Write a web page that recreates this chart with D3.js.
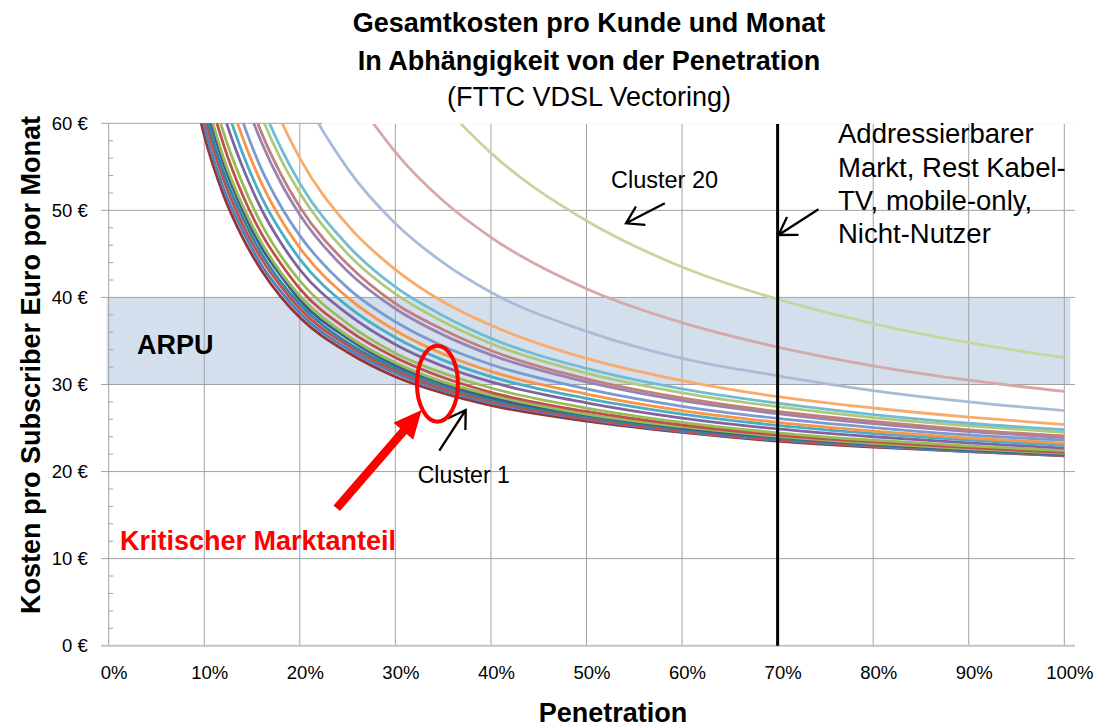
<!DOCTYPE html>
<html>
<head>
<meta charset="utf-8">
<script src="https://cdn.jsdelivr.net/npm/d3@7"></script>
<style>
  html, body { margin: 0; padding: 0; background: #fff; overflow: hidden; }
  svg { display: block; }
  text { font-family: 'Liberation Sans', Arial, sans-serif; }
  .bold { font-weight: bold; }
</style>
</head>
<body>
<svg width="1094" height="728"></svg>
<script>
const svg = d3.select('svg');
const width = +svg.attr('width');
const height = +svg.attr('height');

// penetration steps (share of households)
const penetration = [0.08, 0.10, 0.12, 0.14, 0.16, 0.18, 0.20, 0.25, 0.30, 0.35, 0.40, 0.50, 0.60, 0.70, 0.80, 0.90, 1.00];

// monthly cost per subscriber (EUR), one array per cluster, null = above chart
const cluster1  = [68.8, 58.6, 51.8, 46.9, 43.1, 40.1, 37.7, 33.7, 30.9, 29.0, 27.6, 25.8, 24.5, 23.5, 22.8, 22.3, 21.8];
const cluster2  = [70.2, 59.7, 52.6, 47.7, 43.7, 40.7, 38.2, 34.1, 31.3, 29.3, 27.9, 26.0, 24.6, 23.6, 22.9, 22.3, 21.85];
const cluster3  = [71.6, 60.8, 53.6, 48.4, 44.4, 41.3, 38.7, 34.5, 31.6, 29.5, 28.1, 26.1, 24.7, 23.7, 23.0, 22.4, 21.9];
const cluster4  = [72.9, 61.8, 54.4, 49.2, 45.0, 41.8, 39.2, 34.8, 31.9, 29.8, 28.3, 26.3, 24.85, 23.85, 23.1, 22.45, 21.95];
const cluster5  = [74.4, 63.0, 55.4, 50.0, 45.7, 42.5, 39.7, 35.3, 32.2, 30.1, 28.5, 26.5, 25.0, 23.95, 23.15, 22.5, 22.0];
const cluster6  = [75.5, 63.9, 56.1, 50.6, 46.3, 42.9, 40.2, 35.6, 32.5, 30.3, 28.8, 26.6, 25.15, 24.05, 23.25, 22.6, 22.1];
const cluster7  = [77.6, 65.6, 57.6, 51.8, 47.3, 43.9, 41.0, 36.3, 33.1, 30.8, 29.1, 26.9, 25.35, 24.2, 23.4, 22.75, 22.2];
const cluster8  = [79.8, 67.3, 59.0, 53.1, 48.4, 44.8, 41.9, 37.0, 33.6, 31.3, 29.6, 27.3, 25.65, 24.45, 23.6, 22.95, 22.4];
const cluster9  = [83.1, 70.0, 61.2, 55.0, 50.1, 46.3, 43.2, 38.1, 34.6, 32.1, 30.3, 27.9, 26.15, 24.9, 24.0, 23.3, 22.7];
const cluster10 = [85.9, 72.2, 63.1, 56.6, 51.5, 47.6, 44.4, 39.0, 35.4, 32.8, 30.9, 28.4, 26.6, 25.3, 24.35, 23.6, 23.0];
const cluster11 = [89.0, 74.7, 65.2, 58.4, 53.1, 49.0, 45.7, 40.0, 36.2, 33.5, 31.5, 28.9, 27.0, 25.65, 24.65, 23.85, 23.25];
const cluster12 = [92.2, 77.3, 67.4, 60.3, 54.7, 50.5, 47.1, 41.1, 37.2, 34.4, 32.3, 29.5, 27.5, 26.1, 25.05, 24.2, 23.6];
const cluster13 = [98.3, 82.1, 71.4, 63.6, 57.8, 53.2, 49.5, 43.0, 38.7, 35.7, 33.4, 30.3, 28.15, 26.65, 25.5, 24.6, 23.9];
const cluster14 = [null, 84.0, 72.9, 65.0, 58.9, 54.2, 50.4, 43.8, 39.3, 36.3, 33.9, 30.65, 28.45, 26.9, 25.75, 24.8, 24.1];
const cluster15 = [null, 87.0, 75.4, 67.1, 60.8, 55.9, 52.0, 45.0, 40.4, 37.2, 34.7, 31.3, 29.05, 27.45, 26.2, 25.25, 24.5];
const cluster16 = [null, 89.2, 77.2, 68.7, 62.2, 57.2, 53.1, 46.0, 41.2, 37.9, 35.3, 31.85, 29.5, 27.85, 26.55, 25.55, 24.8];
const cluster17 = [null, null, 81.9, 72.8, 65.9, 60.4, 56.0, 48.3, 43.2, 39.5, 36.8, 33.0, 30.45, 28.6, 27.3, 26.25, 25.4];
const cluster18 = [null, null, null, 84.5, 76.1, 69.5, 64.2, 54.8, 48.5, 44.0, 40.6, 36.1, 33.0, 31.0, 29.3, 28.0, 27.0];
const cluster19 = [null, null, null, null, null, 83.0, 76.4, 64.6, 56.7, 51.1, 46.9, 41.0, 37.1, 34.3, 32.15, 30.5, 29.2];
const cluster20 = [null, null, null, null, null, null, null, null, 69.7, 62.2, 56.6, 48.8, 43.5, 39.8, 37.0, 34.8, 33.1];

const clusters = [cluster1, cluster2, cluster3, cluster4, cluster5, cluster6, cluster7, cluster8, cluster9, cluster10,
                  cluster11, cluster12, cluster13, cluster14, cluster15, cluster16, cluster17, cluster18, cluster19, cluster20];

const clusterColors = ['#943634', '#4F81BD', '#C0504D', '#31859C', '#376092', '#9BBB59', '#C0504D', '#9BBB59', '#8064A2', '#4BACC6',
                       '#F79646', '#7B9BD0', '#9983B5', '#C0807E', '#AFC97A', '#6FBDD1', '#F9AB6B', '#A8BCDA', '#D6A8A7', '#C4D7A1'];

const yTicks = [0, 10, 20, 30, 40, 50, 60];
const xTicks = [0, 0.1, 0.2, 0.3, 0.4, 0.5, 0.6, 0.7, 0.8, 0.9, 1.0];
const arpuRange = [30, 40];          // ARPU band
const addressableShare = 0.7;        // addressable market limit
const criticalShare = [0.344, 30.1]; // centre of the red ellipse

const margin = { top: 123.3, right: 29.7, bottom: 82.3, left: 108.7 };
const innerWidth = width - margin.left - margin.right;
const innerHeight = height - margin.top - margin.bottom;

const xScale = d3.scaleLinear().domain([0, 1]).range([0, innerWidth]);
const yScale = d3.scaleLinear().domain([0, 60]).range([innerHeight, 0]);

const g = svg.append('g')
    .attr('transform', `translate(${margin.left},${margin.top})`);

// ARPU band sits under the grid
g.append('rect')
    .attr('x', -2)
    .attr('y', yScale(arpuRange[1]))
    .attr('width', innerWidth + 8)
    .attr('height', yScale(arpuRange[0]) - yScale(arpuRange[1]))
    .attr('fill', '#D4DFEE');

// horizontal gridlines (they run a bit past both axes, like in Excel)
g.selectAll('.hgrid')
    .data(yTicks.filter(d => d > 0))
    .enter().append('line')
    .attr('class', 'hgrid')
    .attr('x1', -7.7).attr('x2', innerWidth + 10.7)
    .attr('y1', d => yScale(d)).attr('y2', d => yScale(d))
    .attr('stroke', '#A3A3A3')
    .attr('stroke-width', 1);

// vertical gridlines
g.selectAll('.vgrid')
    .data(xTicks.filter(d => d > 0))
    .enter().append('line')
    .attr('class', 'vgrid')
    .attr('x1', d => xScale(d)).attr('x2', d => xScale(d))
    .attr('y1', 0).attr('y2', innerHeight)
    .attr('stroke', '#A3A3A3')
    .attr('stroke-width', 1);

// y axis: labels only, line + minor ticks drawn by hand
const yAxis = d3.axisLeft(yScale)
    .tickValues(yTicks)
    .tickFormat(d => `${d} €`)
    .tickSize(0)
    .tickPadding(21);
const yAxisG = g.append('g').call(yAxis)
    .attr('font-size', 18.5)
    .attr('font-family', 'Lato, "Open Sans", sans-serif');
yAxisG.select('.domain').remove();
yAxisG.selectAll('text').attr('fill', '#000');

g.append('line')
    .attr('x1', 0).attr('x2', 0)
    .attr('y1', 0).attr('y2', innerHeight)
    .attr('stroke', '#A3A3A3');

g.selectAll('.minor')
    .data(d3.range(0, 61, 2).filter(d => d % 10 !== 0))
    .enter().append('line')
    .attr('class', 'minor')
    .attr('x1', 0).attr('x2', 4.5)
    .attr('y1', d => yScale(d)).attr('y2', d => yScale(d))
    .attr('stroke', '#A3A3A3');

// x axis
const xAxis = d3.axisBottom(xScale)
    .tickValues(xTicks)
    .tickFormat(d3.format('.0%'))
    .tickSize(0);
const xAxisG = g.append('g')
    .attr('transform', `translate(0, ${innerHeight})`)
    .call(xAxis)
    .attr('font-size', 18.5)
    .attr('font-family', 'Lato, "Open Sans", sans-serif');
xAxisG.select('.domain').remove();
xAxisG.selectAll('text')
    .attr('fill', '#000')
    .attr('y', 33.5)
    .attr('dy', 0)
    .attr('dx', 5);

g.append('line')
    .attr('x1', -7.7).attr('x2', innerWidth + 10.7)
    .attr('y1', innerHeight).attr('y2', innerHeight)
    .attr('stroke', '#C4C4C4')
    .attr('stroke-width', 2);

// cost curves
svg.append('clipPath').attr('id', 'plot-clip')
    .append('rect')
    .attr('x', -8).attr('y', 0)
    .attr('width', innerWidth + 20).attr('height', innerHeight);

const series = clusters.map((values, i) => ({
    name: `Cluster ${i + 1}`,
    color: clusterColors[i],
    points: values.map((v, j) => ({ p: penetration[j], value: v }))
}));

const line = d3.line()
    .defined(d => d.value !== null)
    .x(d => xScale(d.p))
    .y(d => yScale(d.value))
    .curve(d3.curveMonotoneX);

g.append('g')
    .attr('clip-path', 'url(#plot-clip)')
    .selectAll('path')
    .data(series)
    .enter().append('path')
    .attr('d', d => line(d.points))
    .attr('fill', 'none')
    .attr('stroke', d => d.color)
    .attr('stroke-width', 2.8)
    .attr('stroke-linejoin', 'round');

// addressable market limit
g.append('line')
    .attr('x1', xScale(addressableShare)).attr('x2', xScale(addressableShare))
    .attr('y1', 0.7).attr('y2', innerHeight)
    .attr('stroke', '#000')
    .attr('stroke-width', 3);

// title box covers the top gridline on the right
svg.append('rect')
    .attr('x', 322).attr('y', 0)
    .attr('width', width - 322).attr('height', 123.9)
    .attr('fill', '#fff');

// titles
const titleX = 589;
svg.append('text').attr('class', 'bold')
    .attr('x', titleX).attr('y', 31.5)
    .attr('text-anchor', 'middle')
    .attr('font-size', 27)
    .text('Gesamtkosten pro Kunde und Monat');
svg.append('text').attr('class', 'bold')
    .attr('x', titleX).attr('y', 69.5)
    .attr('text-anchor', 'middle')
    .attr('font-size', 27)
    .text('In Abhängigkeit von der Penetration');
svg.append('text')
    .attr('x', titleX).attr('y', 106)
    .attr('text-anchor', 'middle')
    .attr('font-size', 27)
    .text('(FTTC VDSL Vectoring)');

svg.append('text').attr('class', 'bold')
    .attr('x', 613).attr('y', 722)
    .attr('text-anchor', 'middle')
    .attr('font-size', 27)
    .text('Penetration');

svg.append('text').attr('class', 'bold')
    .attr('transform', 'translate(40, 365) rotate(-90)')
    .attr('text-anchor', 'middle')
    .attr('font-size', 27)
    .text('Kosten pro Subscriber Euro por Monat');

// annotations
svg.append('text').attr('class', 'bold')
    .attr('x', 137).attr('y', 354)
    .attr('font-size', 27)
    .text('ARPU');

svg.append('text').attr('class', 'bold')
    .attr('x', 120).attr('y', 550)
    .attr('font-size', 27)
    .attr('fill', '#FF0000')
    .text('Kritischer Marktanteil');

const addrLines = ['Addressierbarer', 'Markt, Rest Kabel-', 'TV, mobile-only,', 'Nicht-Nutzer'];
svg.append('text')
    .attr('x', 838).attr('y', 143.3)
    .attr('font-size', 27.5)
    .selectAll('tspan')
    .data(addrLines)
    .enter().append('tspan')
    .attr('x', 838)
    .attr('dy', (d, i) => i === 0 ? 0 : 33.3)
    .text(d => d);

svg.append('text')
    .attr('x', 611).attr('y', 188)
    .attr('font-size', 23.5)
    .text('Cluster 20');

svg.append('text')
    .attr('x', 417.7).attr('y', 483)
    .attr('font-size', 23)
    .text('Cluster 1');

// open arrow: shaft plus two wings at the tip
const openArrow = (x1, y1, x2, y2, len, angle) => {
    const a = Math.atan2(y1 - y2, x1 - x2);
    const w1 = [x2 + len * Math.cos(a + angle), y2 + len * Math.sin(a + angle)];
    const w2 = [x2 + len * Math.cos(a - angle), y2 + len * Math.sin(a - angle)];
    svg.append('path')
        .attr('d', `M${x1},${y1}L${x2},${y2}M${w1[0]},${w1[1]}L${x2},${y2}L${w2[0]},${w2[1]}`)
        .attr('fill', 'none')
        .attr('stroke', '#000')
        .attr('stroke-width', 2.3);
};

openArrow(664.8, 203.3, 626, 223.3, 19.5, 0.56);
openArrow(818.5, 209.3, 778.5, 235, 20, 0.56);
openArrow(439.3, 450.7, 465.7, 410, 20, 0.56);

// red ellipse around the critical share
svg.append('ellipse')
    .attr('cx', margin.left + xScale(criticalShare[0]))
    .attr('cy', margin.top + yScale(criticalShare[1]))
    .attr('rx', 20.5).attr('ry', 38)
    .attr('fill', 'none')
    .attr('stroke', '#FF0000')
    .attr('stroke-width', 4);

// thick red block arrow
const blockArrow = (x1, y1, x2, y2, shaft, headLen, headHalf) => {
    const len = Math.hypot(x2 - x1, y2 - y1);
    const ux = (x2 - x1) / len, uy = (y2 - y1) / len;
    const nx = -uy, ny = ux;
    const bx = x2 - ux * headLen, by = y2 - uy * headLen;
    const pts = [
        [x1 + nx * shaft / 2, y1 + ny * shaft / 2],
        [bx + nx * shaft / 2, by + ny * shaft / 2],
        [bx + nx * headHalf, by + ny * headHalf],
        [x2, y2],
        [bx - nx * headHalf, by - ny * headHalf],
        [bx - nx * shaft / 2, by - ny * shaft / 2],
        [x1 - nx * shaft / 2, y1 - ny * shaft / 2]
    ];
    svg.append('path')
        .attr('d', 'M' + pts.map(p => p.join(',')).join('L') + 'Z')
        .attr('fill', '#FF0000');
};

blockArrow(336.7, 508.3, 421.7, 410, 8.5, 28, 13);
</script>
</body>
</html>
